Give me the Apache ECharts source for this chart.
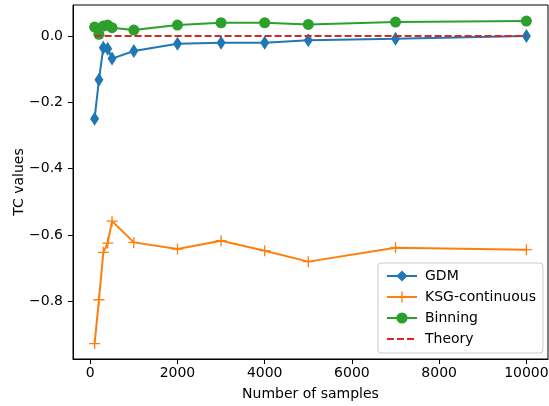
<!DOCTYPE html>
<html>
<head>
<meta charset="utf-8">
<script src="https://cdn.jsdelivr.net/npm/echarts@6/dist/echarts.min.js"></script>
<style>
  html, body { margin: 0; padding: 0; background: #fff; }
  #chart { width: 549px; height: 406px; }
</style>
</head>
<body>
<div id="chart"></div>
<script>
// sample sizes along the x axis
const samples = [100, 200, 300, 400, 500, 1000, 2000, 3000, 4000, 5000, 7000, 10000]
const gdm = [-0.249, -0.132, -0.035, -0.038, -0.068, -0.045, -0.023, -0.020, -0.020, -0.013, -0.008, 0.0]
const ksg = [-0.927, -0.795, -0.652, -0.624, -0.558, -0.622, -0.642, -0.617, -0.647, -0.680, -0.638, -0.644]
const binning = [0.027, 0.005, 0.030, 0.033, 0.025, 0.018, 0.033, 0.040, 0.040, 0.035, 0.042, 0.045]
const theoryX = [100, 10000]
const theory = [0, 0]
const xTicks = [0, 2000, 4000, 6000, 8000, 10000]
const yTicks = [-0.8, -0.6, -0.4, -0.2, 0.0]

const font = 'DejaVu Sans'
const pair = (xs, ys) => xs.map((x, i) => [x, ys[i]])
const plus = 'path://M4.4,0h1.2v4.4h4.4v1.2h-4.4v4.4h-1.2v-4.4h-4.4v-1.2h4.4z'

const chart = echarts.init(document.getElementById('chart'))
chart.setOption({
  animation: false,
  backgroundColor: '#fff',
  textStyle: { fontFamily: font, color: '#000' },
  grid: {
    left: 73,
    right: 1,
    top: 5,
    bottom: 47,
    outerBoundsMode: 'none',
    containLabel: false,
    show: true,
    borderColor: '#000',
    borderWidth: 1
  },
  xAxis: {
    type: 'value',
    min: -395,
    max: 10495,
    name: 'Number of samples',
    nameLocation: 'middle',
    nameGap: 28,
    nameMoveOverlap: false,
    nameTextStyle: { fontFamily: font, fontSize: 14, color: '#000' },
    axisLine: { show: true, onZero: false, lineStyle: { color: '#000', width: 1 } },
    axisTick: { show: true, length: 5, lineStyle: { color: '#000' }, customValues: xTicks },
    axisLabel: {
      fontFamily: font, fontSize: 14, color: '#000', margin: 7,
      customValues: xTicks,
      formatter: v => String(v)
    },
    splitLine: { show: false }
  },
  yAxis: {
    type: 'value',
    min: -0.9735,
    max: 0.0935,
    name: 'TC values',
    nameLocation: 'middle',
    nameRotate: 90,
    nameGap: 47,
    nameMoveOverlap: false,
    nameTextStyle: { fontFamily: font, fontSize: 14, color: '#000' },
    axisLine: { show: true, onZero: false, lineStyle: { color: '#000', width: 1 } },
    axisTick: { show: true, length: 5, lineStyle: { color: '#000' }, customValues: yTicks },
    axisLabel: {
      fontFamily: font, fontSize: 14, color: '#000', margin: 10,
      customValues: yTicks,
      formatter: v => v.toFixed(1).replace('-', '\u2212')
    },
    splitLine: { show: false }
  },
  legend: {
    orient: 'vertical',
    left: 378,
    top: 263,
    padding: [6, 7, 7, 8],
    itemGap: 7,
    itemWidth: 30,
    itemHeight: 14,
    backgroundColor: 'rgba(255,255,255,0.8)',
    borderColor: '#ccc',
    borderWidth: 1,
    borderRadius: 3,
    textStyle: { fontFamily: font, fontSize: 14, color: '#000', padding: [0, 0, 0, 3] },
    data: ['GDM', 'KSG-continuous', 'Binning', { name: 'Theory', itemStyle: { opacity: 0 } }]
  },
  series: [
    {
      name: 'GDM',
      type: 'line',
      data: pair(samples, gdm),
      symbol: 'diamond',
      symbolSize: [9, 14],
      showAllSymbol: true,
      itemStyle: { color: '#1f77b4' },
      lineStyle: { color: '#1f77b4', width: 2 },
      z: 2
    },
    {
      name: 'KSG-continuous',
      type: 'line',
      data: pair(samples, ksg),
      symbol: plus,
      symbolSize: 11,
      showAllSymbol: true,
      itemStyle: { color: '#ff7f0e' },
      lineStyle: { color: '#ff7f0e', width: 2 },
      z: 3
    },
    {
      name: 'Binning',
      type: 'line',
      data: pair(samples, binning),
      symbol: 'circle',
      symbolSize: 11,
      showAllSymbol: true,
      itemStyle: { color: '#2ca02c' },
      lineStyle: { color: '#2ca02c', width: 2 },
      z: 4
    },
    {
      name: 'Theory',
      type: 'line',
      data: pair(theoryX, theory),
      symbol: 'circle',
      showSymbol: false,
      itemStyle: { color: '#d62728' },
      lineStyle: { color: '#d62728', width: 2, type: [7, 3] },
      z: 5
    }
  ]
})
</script>
</body>
</html>
